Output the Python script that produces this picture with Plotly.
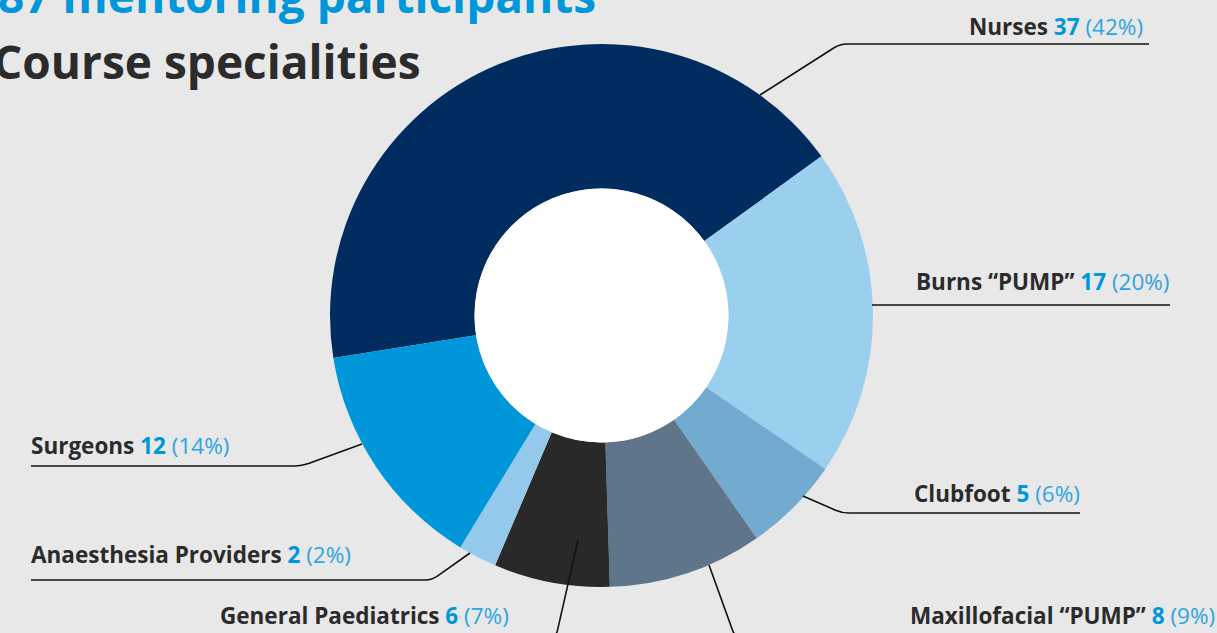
import plotly.graph_objects as go

# ---------------- data ----------------
categories = ["Nurses", "Burns “PUMP”", "Clubfoot", "Maxillofacial “PUMP”",
              "General Paediatrics", "Anaesthesia Providers", "Surgeons"]
counts = [37, 17, 5, 8, 6, 2, 12]
percent_labels = ["42%", "20%", "6%", "9%", "7%", "2%", "14%"]
title_line1 = "87 mentoring participants"
title_line2 = "Course specialities"

# ---------------- style ----------------
slice_colors = ["#002c5f", "#9acfee", "#73abd0", "#5f7589",
                "#292929", "#94c9ec", "#0096da"]
BG = "#e8e8e8"
DARK = "#2b2b2b"
BLUE = "#0096da"
LIGHTBLUE = "#2ea4e2"
FONT = "Open Sans"

W, H = 1217, 633
CX, CY, R, RH = 601.5, 315.5, 271.5, 127


def px(x):
    return x / W


def py(y):
    return 1 - y / H


# label placement (pixels): anchor x, xanchor, text center y, leader points
label_layout = [
    dict(x=1145, xa="right", y=26, pts=[(760, 95), (840, 44), (1149, 44)]),
    dict(x=1172, xa="right", y=282, pts=[(872, 305), (1170, 305)]),
    dict(x=1082, xa="right", y=493, pts=[(803, 496), (842, 513), (1080, 513)]),
    dict(x=1217, xa="right", y=615, pts=[(709, 565), (735, 637), (1216, 637)]),
    dict(x=511, xa="right", y=615, pts=[(578, 540), (556, 637), (200, 637)]),
    dict(x=29, xa="left", y=554, pts=[(470, 553), (432, 580), (31, 580)]),
    dict(x=29, xa="left", y=445, pts=[(362, 444), (302, 466), (31, 466)]),
]


def leader_path(pts, rad=7):
    def P(x, y):
        return f"{px(x):.5f},{py(y):.5f}"
    d = "M " + P(*pts[0])
    for i in range(1, len(pts) - 1):
        (x0, y0), (x1, y1), (x2, y2) = pts[i - 1], pts[i], pts[i + 1]
        l1 = ((x1 - x0) ** 2 + (y1 - y0) ** 2) ** 0.5
        l2 = ((x2 - x1) ** 2 + (y2 - y1) ** 2) ** 0.5
        ax, ay = x1 - (x1 - x0) / l1 * rad, y1 - (y1 - y0) / l1 * rad
        bx, by = x1 + (x2 - x1) / l2 * rad, y1 + (y2 - y1) / l2 * rad
        d += " L " + P(ax, ay) + " Q " + P(x1, y1) + " " + P(bx, by)
    d += " L " + P(*pts[-1])
    return d


fig = go.Figure(go.Pie(
    labels=categories,
    values=counts,
    sort=False,
    direction="clockwise",
    rotation=-99,
    hole=RH / R,
    marker=dict(colors=slice_colors, line=dict(width=0)),
    textinfo="none",
    hoverinfo="label+value",
    showlegend=False,
    domain=dict(x=[px(CX - R), px(CX + R)], y=[py(CY + R), py(CY - R)]),
))

shapes = [dict(type="circle", xref="paper", yref="paper",
               x0=px(CX - RH), x1=px(CX + RH), y0=py(CY + RH), y1=py(CY - RH),
               fillcolor="white", line=dict(width=0), layer="above")]

annotations = []
for name, val, pct, lay in zip(categories, counts, percent_labels, label_layout):
    shapes.append(dict(type="path", xref="paper", yref="paper",
                       path=leader_path(lay["pts"]),
                       line=dict(color="#111111", width=1.6), layer="above"))
    txt = (f"<b>{name}</b> <b><span style='color:{BLUE}'>{val}</span></b> "
           f"<span style='color:{LIGHTBLUE}'>({pct})</span>")
    annotations.append(dict(text=txt, xref="paper", yref="paper",
                            x=px(lay["x"]), y=py(lay["y"]),
                            xanchor=lay["xa"], yanchor="middle",
                            showarrow=False,
                            font=dict(family=FONT, size=22.5, color=DARK)))

annotations.append(dict(text=f"<b>{title_line1}</b>", xref="paper", yref="paper",
                        x=px(-4), y=py(-5), xanchor="left", yanchor="middle",
                        showarrow=False,
                        font=dict(family=FONT, size=46, color=BLUE)))
annotations.append(dict(text=f"<b>{title_line2}</b>", xref="paper", yref="paper",
                        x=px(-9), y=py(61), xanchor="left", yanchor="middle",
                        showarrow=False,
                        font=dict(family=FONT, size=46, color=DARK)))

fig.update_layout(
    width=W, height=H,
    margin=dict(l=0, r=0, t=0, b=0),
    paper_bgcolor=BG, plot_bgcolor=BG,
    shapes=shapes, annotations=annotations,
)

fig.write_html("out.html",
               config={"displayModeBar": False},
               post_script="document.body.style.margin='0';"
                           "document.body.style.overflow='hidden';")
